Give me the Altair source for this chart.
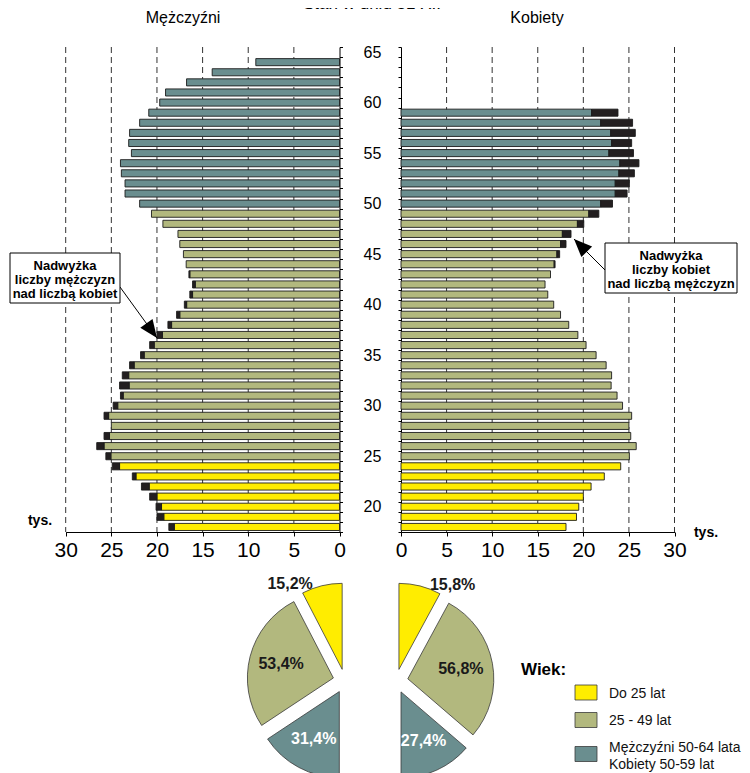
import math
import altair as alt
import pandas as pd

# ---------------- data ----------------
ages = list(range(18, 65))
men = [18.7, 20.0, 20.1, 20.8, 21.7, 22.7, 24.9,
       25.6, 26.6, 25.8, 25.0, 25.8, 24.8, 24.0, 24.1, 23.8, 23.0,
       21.8, 20.8, 20.0, 18.8, 17.85, 17.0, 16.4, 16.1, 16.5, 16.8,
       17.1, 17.5, 17.7, 19.35, 20.6,
       21.9, 23.5, 23.5, 23.9, 24.0, 22.8, 23.1, 23.0, 21.9, 20.9,
       19.7, 19.06, 16.76, 13.95, 9.17]
women = [18.1, 19.25, 19.5, 20.0, 20.85, 22.3, 24.1,
         25.05, 25.8, 25.2, 25.0, 25.3, 24.3, 23.7, 23.05, 23.1, 22.5,
         21.4, 20.3, 19.4, 18.4, 17.5, 16.75, 16.1, 15.8, 16.4, 16.9,
         17.4, 18.1, 18.65, 20.05, 21.7,
         23.2, 24.8, 25.05, 25.6, 26.1, 25.5, 25.3, 25.7, 25.4, 23.8]
group_names = ["Do 25 lat", "25 - 49 lat", "50+"]
group_colors = ["#FFED00", "#B2B87E", "#6A8E8F"]
excess_color = "#231F20"
pie_men = [15.2, 53.4, 31.4]
pie_women = [15.8, 56.8, 27.4]
legend_labels = ["Do 25 lat", "25 - 49 lat", "Mężczyźni 50-64 lata\nKobiety 50-59 lat"]
x_ticks = [0, 5, 10, 15, 20, 25, 30]
grid_vals = [5, 10, 15, 20, 25, 30]
age_labels = [20, 25, 30, 35, 40, 45, 50, 55, 60, 65]
age_ticks = [17.5 + i for i in range(49)]

# ---------------- layout ----------------
W, H = 734, 765
Y_BOT, Y_TOP = 524, 39
MEN_X0, MEN_X30 = 331.5, 57.7
WOM_X0, WOM_X30 = 393, 666.5
FONT = "Liberation Sans, Arial, sans-serif"
NARROW = "Liberation Sans Narrow, Arial Narrow, Liberation Sans, sans-serif"
BAR_HALF = 0.35
PIE_R = 86
EXPLODE = 12
MEN_C = (337, 673)
WOM_C = (388, 673)
OUT_LABEL_R, OUT_LABEL_TURN = 100, math.radians(4)
IN_LABEL_R = 54

ysc = alt.Scale(domain=[17.5, 65.5], range=[Y_BOT, Y_TOP], nice=False, zero=False)
men_sc = alt.Scale(domain=[0, 30], range=[MEN_X0, MEN_X30], nice=False, zero=False)
wom_sc = alt.Scale(domain=[0, 30], range=[WOM_X0, WOM_X30], nice=False, zero=False)
col_sc = alt.Scale(domain=group_names, range=group_colors)


def grp(a):
    return group_names[0] if a < 25 else (group_names[1] if a < 50 else group_names[2])


rows = []
for i, a in enumerate(ages):
    m = men[i]
    w = women[i] if i < len(women) else None
    rows.append(dict(age=a, lo=a - BAR_HALF, hi=a + BAR_HALF, group=grp(a), m=m,
                     w=w, base=min(m, w) if w is not None else m, zero=0))
df = pd.DataFrame(rows)


def xaxis():
    return alt.Axis(orient="bottom", offset=Y_BOT - H, values=x_ticks, title=None, grid=False,
                    domainColor="#000", tickColor="#000", tickSize=4, labelFont=NARROW,
                    labelFontSize=21, labelColor="#000", labelPadding=3, labelFlush=False,
                    labelOverlap=False)


def tickaxis(orient, offset):
    return alt.Axis(orient=orient, offset=offset, values=age_ticks, labels=False, title=None,
                    grid=False, tickSize=3, domainColor="#000", tickColor="#000")


men_label_axis = alt.Axis(orient="right", offset=MEN_X0 - W, values=age_labels, ticks=False,
                          tickSize=0, domain=False, labelPadding=32.5, labelAlign="center",
                          labelBaseline="middle", labelFont=FONT, labelFontSize=16,
                          labelColor="#000", title=None, grid=False, labelFlush=False,
                          labelOverlap=False)

bar_style = dict(stroke="#1c1c1c", strokeWidth=0.9)

# grid lines
grid_df = pd.DataFrame({"v": grid_vals})
men_grid = alt.Chart(grid_df).mark_rule(color="#333", strokeDash=[6, 4], strokeWidth=1).encode(
    x=alt.X("v:Q", scale=men_sc, axis=None), y=alt.value(Y_TOP), y2=alt.value(Y_BOT))
wom_grid = alt.Chart(grid_df).mark_rule(color="#333", strokeDash=[6, 4], strokeWidth=1).encode(
    x=alt.X("v:Q", scale=wom_sc, axis=None), y=alt.value(Y_TOP), y2=alt.value(Y_BOT))

men_bars = alt.Chart(df).mark_bar(**bar_style).encode(
    x=alt.X("base:Q", scale=men_sc, axis=xaxis()), x2="zero:Q",
    y=alt.Y("lo:Q", scale=ysc, axis=tickaxis("right", MEN_X0 - W)), y2="hi:Q",
    color=alt.Color("group:N", scale=col_sc, legend=None))
men_ex = alt.Chart(df).transform_filter("isValid(datum.w) && datum.m > datum.w").mark_bar(
    color=excess_color, **bar_style).encode(
    x=alt.X("m:Q", scale=men_sc, axis=None), x2="w:Q",
    y=alt.Y("lo:Q", scale=ysc, axis=men_label_axis), y2="hi:Q")

wom_bars = alt.Chart(df).transform_filter("isValid(datum.w)").mark_bar(**bar_style).encode(
    x=alt.X("base:Q", scale=wom_sc, axis=xaxis()), x2="zero:Q",
    y=alt.Y("lo:Q", scale=ysc, axis=tickaxis("left", -WOM_X0)), y2="hi:Q",
    color=alt.Color("group:N", scale=col_sc, legend=None))
wom_ex = alt.Chart(df).transform_filter("isValid(datum.w) && datum.w > datum.m").mark_bar(
    color=excess_color, **bar_style).encode(
    x=alt.X("w:Q", scale=wom_sc, axis=None), x2="m:Q",
    y=alt.Y("lo:Q", scale=ysc, axis=None), y2="hi:Q")

# ---------------- pies ----------------
pie_rows = []
for side, shares, (cx, cy) in (("M", pie_men, MEN_C), ("K", pie_women, WOM_C)):
    cum = 0.0
    sign = -1 if side == "M" else 1
    for g, s in zip(group_names, shares):
        c0, c1 = cum, cum + s
        cum = c1
        if side == "M":
            a0, a1 = 2 * math.pi - c0 / 100 * math.pi, 2 * math.pi - c1 / 100 * math.pi
        else:
            a0, a1 = c0 / 100 * math.pi, c1 / 100 * math.pi
        mid = (a0 + a1) / 2
        ox = cx + EXPLODE * math.sin(mid)
        oy = cy - EXPLODE * math.cos(mid)
        if g == group_names[0]:
            la, lr = a1 + sign * OUT_LABEL_TURN, OUT_LABEL_R
        else:
            la, lr = mid, IN_LABEL_R
        pie_rows.append(dict(group=g, a0=a0, a1=a1, ox=ox, oy=oy,
                             lx=ox + lr * math.sin(la), ly=oy - lr * math.cos(la),
                             label=f"{s:.1f}".replace(".", ",") + "%",
                             lcolor="#ffffff" if g == group_names[2] else "#1a1a1a"))
pie_df = pd.DataFrame(pie_rows)

pies = alt.Chart(pie_df).mark_arc(outerRadius=PIE_R, innerRadius=0, stroke="#3a3a3a",
                                   strokeWidth=0.8).encode(
    theta=alt.Theta("a0:Q", scale=None, stack=False), theta2="a1:Q",
    x=alt.X("ox:Q", scale=None, axis=None), y=alt.Y("oy:Q", scale=None, axis=None),
    color=alt.Color("group:N", scale=col_sc, legend=None))
pie_labels = alt.Chart(pie_df).mark_text(font=FONT, fontSize=16, fontWeight="bold").encode(
    x=alt.X("lx:Q", scale=None, axis=None), y=alt.Y("ly:Q", scale=None, axis=None),
    text="label:N", color=alt.Color("lcolor:N", scale=None))

# ---------------- legend ----------------
leg_df = pd.DataFrame({"group": group_names, "label": legend_labels,
                       "sy": [684.5, 712, 746], "ty": [686, 713, 740]})
leg_sw = alt.Chart(leg_df).mark_rect(stroke="#3a3a3a", strokeWidth=0.8).encode(
    x=alt.value(567), x2=alt.value(589),
    y=alt.Y("y0:Q", scale=None, axis=None), y2="y1:Q",
    color=alt.Color("group:N", scale=col_sc, legend=None)).transform_calculate(
    y0="datum.sy - 7.5", y1="datum.sy + 7.5")
leg_tx = alt.Chart(leg_df).mark_text(font=FONT, fontSize=14, align="left", baseline="middle",
                                     lineBreak="\n", lineHeight=17, color="#111").encode(
    x=alt.value(601), y=alt.Y("ty:Q", scale=None, axis=None), text="label:N")

# ---------------- texts & annotations ----------------
one = pd.DataFrame({"k": [0]})


def txt(text, x, y, size=16, weight="normal", align="center", baseline="middle", font=FONT, **kw):
    return alt.Chart(one).mark_text(text=text, fontSize=size, fontWeight=weight, align=align,
                                    baseline=baseline, font=font, color="#000", **kw).encode(
        x=alt.value(x), y=alt.value(y))


def box(x0, x1, y0, y1):
    return alt.Chart(one).mark_rect(fill="white", stroke="#000", strokeWidth=1).encode(
        x=alt.value(x0), x2=alt.value(x1), y=alt.value(y0), y2=alt.value(y1))


def arrow(x0, y0, x1, y1):
    ang = math.degrees(math.atan2(x1 - x0, -(y1 - y0))) % 360
    line = alt.Chart(one).mark_rule(color="#000", strokeWidth=1).encode(
        x=alt.value(x0), y=alt.value(y0), x2=alt.value(x1), y2=alt.value(y1))
    head = alt.Chart(one).mark_point(shape="M0,0L-0.42,1L0.42,1Z", filled=True, color="#000",
                                     size=1300, angle=ang, opacity=1, strokeWidth=0).encode(
        x=alt.value(x1), y=alt.value(y1))
    return [line, head]


texts = [
    txt("Stan w dniu 31 XII", 364, 1, size=17, baseline="alphabetic"),
    txt("Mężczyźni", 175, 10, size=16),
    txt("Kobiety", 529, 10, size=16),
    txt("tys.", 32, 513, size=14, weight="bold"),
    txt("tys.", 698, 525, size=14, weight="bold"),
    txt("Wiek:", 513, 662, size=17, weight="bold", align="left"),
]

annot = (arrow(112, 279, 149, 330) + [box(2, 112, 245, 295),
         txt(["Nadwyżka", "liczby mężczyzn", "nad liczbą kobiet"], 57, 258, size=13,
             weight="bold", lineHeight=14)]
         + arrow(597, 262, 566, 231) + [box(597, 729, 235, 285),
         txt(["Nadwyżka", "liczby kobiet", "nad liczbą mężczyzn"], 663, 248, size=13,
             weight="bold", lineHeight=14)])

layers = [men_grid, wom_grid, men_bars, men_ex, wom_bars, wom_ex] + annot + \
         [pies, pie_labels, leg_sw, leg_tx] + texts

chart = alt.layer(*layers).resolve_scale(
    x="independent", y="independent", color="shared"
).properties(
    width=W, height=H, autosize=alt.AutoSizeParams(type="none"), padding=0,
    background="white"
).configure_view(stroke=None)

chart.save("out.html", embed_options={"renderer": "svg", "actions": False})
